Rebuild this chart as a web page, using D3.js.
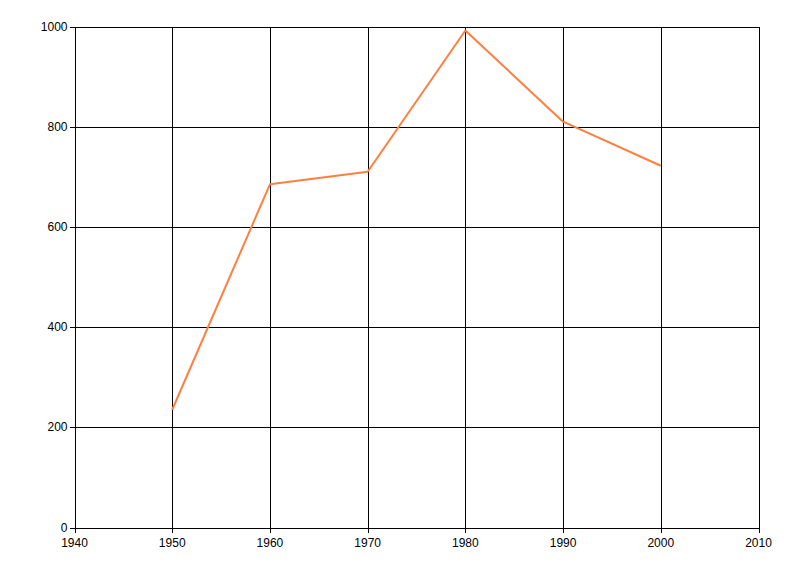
<!DOCTYPE html>
<html><head><meta charset="utf-8">
<script src="https://cdn.jsdelivr.net/npm/d3@7"></script>
<style>body{margin:0;background:#fff;}svg{display:block;}</style>
</head><body>
<svg id="c" width="800" height="576"></svg>
<script>
const years = [1950, 1960, 1970, 1980, 1990, 2000];
const values = [235, 685, 710, 992, 810, 722];
const xTicks = [1940, 1950, 1960, 1970, 1980, 1990, 2000, 2010];
const yTicks = [0, 200, 400, 600, 800, 1000];

const svg = d3.select("#c");
const L = 74.5, R = 758.5, T = 26.5, B = 527.5;
const x = d3.scaleLinear().domain([1940, 2010]).range([L, R]);
const y = d3.scaleLinear().domain([0, 1000]).range([B, T]);

const font = "'Liberation Sans', Arial, sans-serif";

// grid
svg.append("g").selectAll("line").data(xTicks).join("line")
  .attr("x1", d => Math.round(x(d)) + 0.5).attr("x2", d => Math.round(x(d)) + 0.5)
  .attr("y1", T).attr("y2", B + 5)
  .attr("stroke", "#000").attr("stroke-width", 1).attr("shape-rendering", "crispEdges");
svg.append("g").selectAll("line").data(yTicks).join("line")
  .attr("y1", d => Math.round(y(d)) + 0.5).attr("y2", d => Math.round(y(d)) + 0.5)
  .attr("x1", L - 5).attr("x2", R)
  .attr("stroke", "#000").attr("stroke-width", 1).attr("shape-rendering", "crispEdges");

// labels
svg.append("g").selectAll("text").data(yTicks).join("text")
  .attr("x", L - 7).attr("y", d => y(d) + 4)
  .attr("text-anchor", "end").attr("font-family", font).attr("font-size", 12)
  .attr("fill", "#000").text(d => d);
svg.append("g").selectAll("text").data(xTicks).join("text")
  .attr("x", d => x(d)).attr("y", B + 19)
  .attr("text-anchor", "middle").attr("font-family", font).attr("font-size", 12)
  .attr("fill", "#000").text(d => d);

// line
const line = d3.line().x((d, i) => x(years[i])).y(d => y(d));
svg.append("path").datum(values).attr("d", line)
  .attr("fill", "none").attr("stroke", "#FF7F3F").attr("stroke-width", 2)
  .attr("stroke-linejoin", "round");
</script>
</body></html>
